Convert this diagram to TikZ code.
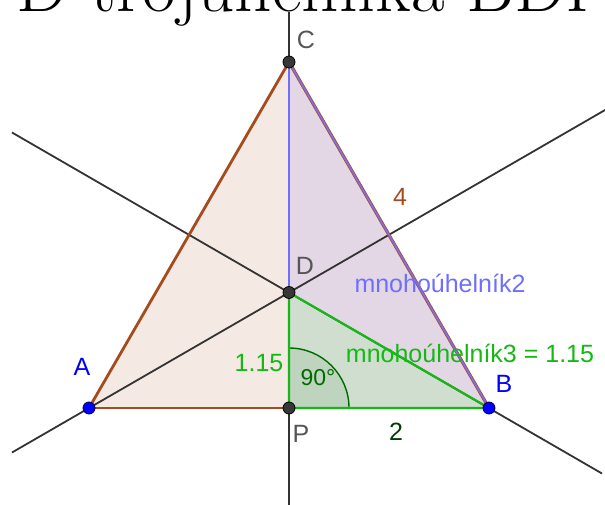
\documentclass[tikz,border=0pt]{standalone}
\usepackage{fontspec}
\newfontfamily\lab{Liberation Sans}
\definecolor{peachfill}{RGB}{245,234,227}
\definecolor{lavfill}{RGB}{227,215,229}
\definecolor{greenfill}{RGB}{208,222,208}
\definecolor{anglefill}{RGB}{190,212,190}
\definecolor{brownl}{RGB}{165,75,30}
\definecolor{purpl}{RGB}{130,110,225}
\definecolor{bluel}{RGB}{110,110,255}
\definecolor{greenl}{RGB}{20,185,20}
\definecolor{dgreen}{RGB}{0,105,0}
\definecolor{ptgrey}{RGB}{55,55,55}
\definecolor{labgrey}{RGB}{85,85,85}
\definecolor{bluept}{RGB}{0,0,255}
\tikzset{
  pt/.style={circle, inner sep=0pt, minimum size=12pt, draw=black, line width=0.8pt},
  greypt/.style={pt, fill=ptgrey},
  bluept/.style={pt, fill=bluept, draw=black!70!blue},
  axis/.style={draw=black!80, line width=1.8pt},
  lbl/.style={font=\lab\fontsize{25}{27}\selectfont, inner sep=0pt},
}
\begin{document}
\begin{tikzpicture}[x=1pt,y=-1pt]
\useasboundingbox (0,0) rectangle (605,505);
\clip (0,0) rectangle (605,505);
% coordinates
\coordinate (a) at (89,408);
\coordinate (b) at (489,408);
\coordinate (c) at (289,62);
\coordinate (d) at (289,292.5);
\coordinate (p) at (289,408);
\coordinate (vtop) at (289,12);
\coordinate (vbot) at (289,510);
\coordinate (l1a) at (12,452.5);
\coordinate (l1b) at (612,106);
\coordinate (l2a) at (12,132.5);
\coordinate (l2b) at (602,473.5);
% title (cropped)
\node[anchor=base east, inner sep=0pt, font=\fontsize{73}{73}\selectfont] (title) at (612,12) {D trojúhelníka BDP};
% fills
\fill[peachfill] (a) -- (b) -- (c) -- cycle;
\fill[lavfill] (c) -- (d) -- (b) -- cycle;
\fill[greenfill] (d) -- (p) -- (b) -- cycle;
\filldraw[fill=anglefill, draw=dgreen, line width=1.4pt] (p) -- ++(0,-60) arc[start angle=-90, end angle=0, radius=60] -- cycle;
% lines
\draw[axis] (vtop) -- (vbot);
\draw[axis] (l1a) -- (l1b);
\draw[axis] (l2a) -- (l2b);
% polygon edges
\draw[brownl, line width=2.8pt] (a) -- (b);
\draw[brownl, line width=2.8pt] (a) -- (c);
\draw[brownl, line width=3.2pt] (b) -- (c);
\draw[purpl, line width=1.8pt] (b) -- (c);
\draw[bluel, line width=1.4pt] (c) -- (d);
\draw[greenl, line width=2.2pt] (d) -- (p) -- (b) -- cycle;
% points
\node[greypt] (C) at (c) {};
\node[greypt] (D) at (d) {};
\node[greypt] (P) at (p) {};
\node[bluept] (A) at (a) {};
\node[bluept] (B) at (b) {};
% labels
\node[lbl, text=labgrey] (lC) at (306,40) {C};
\node[lbl, text=labgrey] (lD) at (305,266) {D};
\node[lbl, text=labgrey] (lP) at (301,434) {P};
\node[lbl, text=bluept] (lA) at (82,367) {A};
\node[lbl, text=bluept] (lB) at (504,384) {B};
\node[lbl, text=brownl] (l4) at (400,197) {4};
\node[lbl, text=bluel] (lm2) at (440,283) {mnohoúhelník2};
\node[lbl, text=greenl] (l115) at (259,363) {1.15};
\node[lbl, text=greenl] (lm3) at (470,353) {mnohoúhelník3 = 1.15};
\node[lbl, text=dgreen!60!black] (l2) at (396,432) {2};
\node[lbl, text=dgreen, font=\lab\fontsize{23}{25}\selectfont] (l90) at (318,378) {90°};
\end{tikzpicture}
\end{document}
